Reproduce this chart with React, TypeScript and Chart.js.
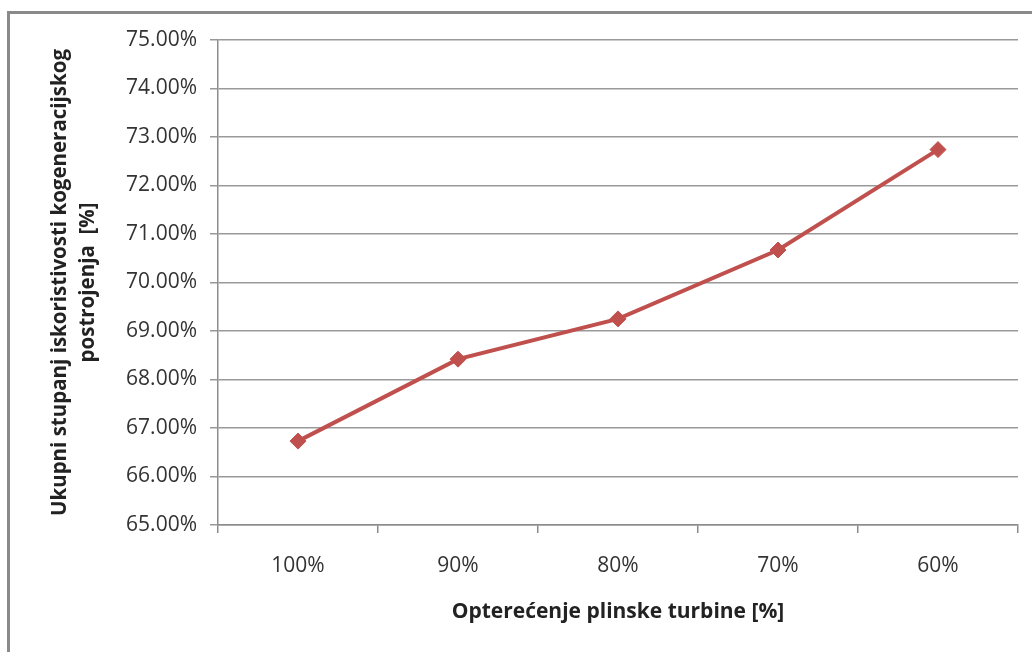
import React, { useEffect, useRef } from "react";
import { Chart, registerables } from "chart.js";

Chart.register(...registerables);

const categories = ["100%", "90%", "80%", "70%", "60%"];
const efficiency = [66.73, 68.42, 69.25, 70.67, 72.74];
const yTitleLines = ["Ukupni stupanj iskoristivosti kogeneracijskog", "postrojenja  [%]"];
const xTitle = "Opterećenje plinske turbine [%]";

const FONT = "'Open Sans', 'Noto Sans', sans-serif";

export default function App() {
  const ref = useRef<HTMLCanvasElement | null>(null);

  useEffect(() => {
    if (!ref.current) return;
    const chart = new Chart(ref.current, {
      type: "line",
      data: {
        labels: categories,
        datasets: [
          {
            data: efficiency,
            borderColor: "#C0504D",
            backgroundColor: "#C0504D",
            borderWidth: 4,
            pointStyle: "rectRot",
            pointRadius: 8,
            pointBorderWidth: 1,
            pointBackgroundColor: "#C0504D",
            pointBorderColor: "#C0504D",
            tension: 0,
          },
        ],
      },
      options: {
        animation: false,
        responsive: false,
        maintainAspectRatio: false,
        layout: { padding: { left: 0, top: 40, right: 14, bottom: 0 } },
        plugins: { legend: { display: false }, tooltip: { enabled: false } },
        scales: {
          x: {
            type: "category",
            offset: true,
            afterFit: (s: any) => {
              s.height = 127;
            },
            grid: {
              offset: true,
              drawOnChartArea: false,
              drawTicks: true,
              tickLength: 8,
              color: "#8c8c8c",
              lineWidth: 1.5,
            },
            border: { display: true, color: "#8c8c8c", width: 1.5 },
            ticks: {
              color: "#333",
              font: { family: FONT, size: 21 },
              padding: 20,
              maxRotation: 0,
            },
            title: {
              display: true,
              text: xTitle,
              color: "#222",
              font: { family: FONT, size: 21, weight: "bold", lineHeight: 1.2 },
              padding: { top: 0, bottom: 27 },
            },
          },
          y: {
            min: 65,
            max: 75,
            afterFit: (s: any) => {
              s.width = 218;
            },
            grid: {
              color: "#999",
              lineWidth: 1.5,
              tickLength: 8,
              drawTicks: true,
            },
            border: { display: true, color: "#8c8c8c", width: 1.5 },
            ticks: {
              stepSize: 1,
              color: "#333",
              font: { family: FONT, size: 21 },
              padding: 13,
              callback: (v: any) => Number(v).toFixed(2) + "%",
            },
            title: {
              display: true,
              text: yTitleLines,
              color: "#222",
              font: { family: FONT, size: 20.5, weight: "bold", lineHeight: 1.37 },
              padding: { top: 46, bottom: 0 },
            },
          },
        },
      },
    });
    return () => chart.destroy();
  }, []);

  return (
    <div
      style={{
        position: "fixed",
        left: 0,
        top: 0,
        width: 1032,
        height: 652,
        overflow: "hidden",
        background: "#fff",
      }}
    >
      <div
        style={{
          position: "absolute",
          left: 7,
          top: 11,
          width: 1100,
          height: 700,
          border: "3px solid #8a8a8a",
          boxSizing: "border-box",
        }}
      />
      <canvas
        ref={ref}
        width={1032}
        height={652}
        style={{ position: "absolute", left: 0, top: 0, width: 1032, height: 652 }}
      />
    </div>
  );
}
